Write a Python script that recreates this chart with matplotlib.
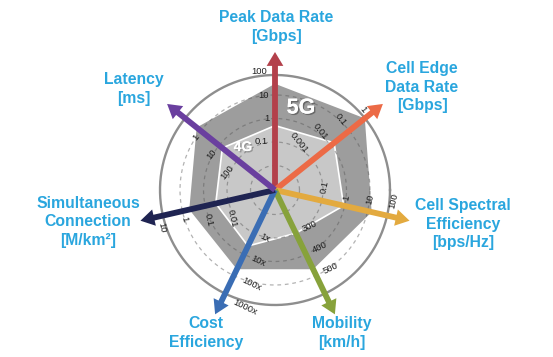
import numpy as np
import matplotlib
matplotlib.use('Agg')
import matplotlib.pyplot as plt
from matplotlib.patches import FancyArrowPatch
import matplotlib.patheffects as pe

# ---------------- data ----------------
axis_labels = ['Peak Data Rate\n[Gbps]',
               'Cell Edge\nData Rate\n[Gbps]',
               'Cell Spectral\nEfficiency\n[bps/Hz]',
               'Mobility\n[km/h]',
               'Cost\nEfficiency',
               'Simultaneous\nConnection\n[M/km\u00b2]',
               'Latency\n[ms]']
axis_colors = ['#b3404b', '#ec6a46', '#e3aa3f', '#87a23b', '#3a6db4', '#1f2452', '#6a3f9f']
tick_labels = [['0.1', '1', '10', '100'],
               ['0.001', '0.01', '0.1', '1'],
               ['0.1', '1', '10', '100'],
               ['300', '400', '500'],
               ['1x', '10x', '100x', '1000x'],
               ['0.01', '0.1', '1', '10'],
               ['100', '10', '1']]
tick_values = [[0.1, 1, 10, 100],
               [0.001, 0.01, 0.1, 1],
               [0.1, 1, 10, 100],
               [300, 400, 500],
               [1, 10, 100, 1000],
               [0.01, 0.1, 1, 10],
               [100, 10, 1]]
log_axis = [True, True, True, False, True, True, True]
values_5g = [30, 0.7, 15, 470, 50, 0.5, 0.6]
values_4g = [0.5, 0.015, 0.9, 300, 4, 0.035, 15]

# ---------------- layout (pixels) ----------------
W, H, DPI = 553, 357, 100
CX, CY = 275, 190          # centre of the radar in image pixels (from top)
RMAX = 145
R0, DR = 24.5, 23.5         # ring k sits at R0 + DR*k
R_OUT = 115
ARROW_LEN = 138
TICK_FS = 6.8

fig = plt.figure(figsize=(W / DPI, H / DPI), dpi=DPI)
fig.patch.set_facecolor('white')
ax = fig.add_axes([(CX - RMAX) / W, (H - CY - RMAX) / H, 2 * RMAX / W, 2 * RMAX / H],
                  projection='polar')
ax.set_ylim(0, RMAX)
ax.set_axis_off()

n = len(axis_labels)
theta = np.deg2rad(90 - np.arange(n) * 360.0 / n)


def ring_index(i, v):
    f = np.log10 if log_axis[i] else (lambda x: x)
    t0, t1 = tick_values[i][0], tick_values[i][1]
    return 1 + (f(v) - f(t0)) / (f(t1) - f(t0))


def radius(i, v):
    return R0 + DR * ring_index(i, v)


r5 = np.array([radius(i, v) for i, v in enumerate(values_5g)])
r4 = np.array([radius(i, v) for i, v in enumerate(values_4g)])
tc = np.append(theta, theta[0])

ax.fill(tc, np.append(r5, r5[0]), color='#9d9d9d', zorder=1, lw=0)
ax.fill(tc, np.append(r4, r4[0]), facecolor='#c8c8c8', edgecolor='white', lw=1.2, zorder=2)

circ = np.linspace(0, 2 * np.pi, 400)
for k in range(0, 4):
    ax.plot(circ, np.full_like(circ, R0 + DR * k), color='#555555', alpha=0.45,
            lw=0.9, ls=(0, (3, 3)), zorder=3)
ax.plot(circ, np.full_like(circ, R_OUT), color='#8e8e8e', lw=1.7, zorder=3)

# tick labels
char_em = {'.': 0.278, 'x': 0.5}
em_px = TICK_FS * DPI / 72.0
for i in range(n):
    th = theta[i]
    rot = np.rad2deg(th) - 90
    while rot <= -90:
        rot += 180
    while rot > 90:
        rot -= 180
    for lab, val in zip(tick_labels[i], tick_values[i]):
        wpx = sum(char_em.get(c, 0.556) for c in lab) * em_px
        off = 4 + 0.75 * wpx
        ox, oy = -np.sin(th) * off, np.cos(th) * off
        ax.annotate(lab, xy=(th, radius(i, val)), xytext=(ox, oy), textcoords='offset pixels',
                    ha='center', va='center', rotation=rot, rotation_mode='anchor',
                    fontsize=TICK_FS, color='#1e1e1e', family='Liberation Sans',
                    annotation_clip=False, zorder=4)

# arrows
for i in range(n):
    arr = FancyArrowPatch((theta[i], 0), (theta[i], ARROW_LEN), transform=ax.transData,
                          arrowstyle='simple,head_length=10,head_width=12,tail_width=4.2',
                          mutation_scale=1, shrinkA=0, shrinkB=0,
                          color=axis_colors[i], lw=0, zorder=5 + i)
    ax.add_patch(arr)

# 5G / 4G text
fig.text(301 / W, 1 - 108 / H, '5G', color='white', fontsize=15.5, fontweight='bold',
         family='Liberation Sans', ha='center', va='center', zorder=20,
         path_effects=[pe.withSimplePatchShadow(offset=(1, -1), shadow_rgbFace='#555555', alpha=0.7),
                       pe.Normal()])
fig.text(243 / W, 1 - 147 / H, '4G', color='white', fontsize=10, fontweight='bold',
         family='Liberation Sans', ha='center', va='center', zorder=20,
         path_effects=[pe.withSimplePatchShadow(offset=(1, -1), shadow_rgbFace='#777777', alpha=0.6),
                       pe.Normal()])

# axis titles
label_pos = [(276, 27), (422, 87), (463, 224), (342, 333), (206, 333), (88, 222), (134, 89)]
for lab, (x, y) in zip(axis_labels, label_pos):
    fig.text(x / W, 1 - y / H, lab, color='#2aa6de', fontsize=11.3, fontweight='bold',
             family='Liberation Sans', ha='center', va='center', multialignment='center',
             linespacing=1.3)

fig.savefig('out.png', dpi=DPI, facecolor='white')
